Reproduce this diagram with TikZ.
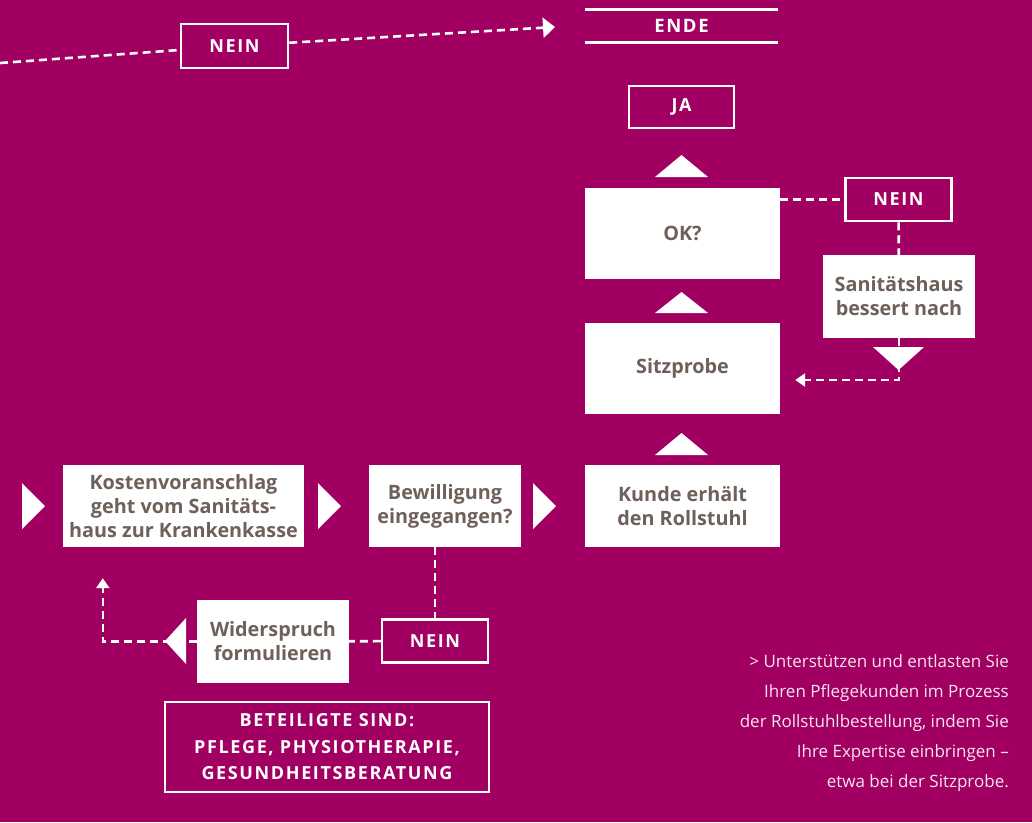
\documentclass[tikz,border=0pt]{standalone}
\usepackage{fontspec}
\setmainfont{Open Sans}
\newfontfamily\capsfont[LetterSpace=9]{Open Sans}
\usetikzlibrary{arrows.meta,positioning}

\definecolor{bgmag}{HTML}{A10062}
\definecolor{boxtext}{RGB}{110,96,90}
\definecolor{notetext}{HTML}{F6E4EE}

\tikzset{
  stepbox/.style={fill=white,text=boxtext,align=center,inner sep=0pt,
    font=\bfseries\fontsize{19.8}{24}\selectfont},
  answer/.style={draw=white,line width=2.5pt,fill=bgmag,text=white,inner sep=0pt,
    minimum width=106pt,minimum height=43pt,font=\capsfont\bfseries\fontsize{18}{20}\selectfont},
  dashline/.style={white,line width=2.6pt,dash pattern=on 8pt off 5pt},
  tip/.style={-{Triangle[width=13pt,length=10pt]}},
  marker/.style={fill=white}
}

\begin{document}
\begin{tikzpicture}[x=1pt,y=-1pt]
  \fill[bgmag] (0,0) rectangle (1032,822);
  \useasboundingbox (0,0) rectangle (1032,822);

  % right column
  \node[inner sep=0pt,minimum width=193pt,minimum height=32pt,text=white,
    font=\capsfont\bfseries\fontsize{18.5}{20}\selectfont] (ende) at (681.5,26) {ENDE};
  \draw[white,line width=2.8pt] (ende.north west) -- (ende.north east);
  \draw[white,line width=2.8pt] (ende.south west) -- (ende.south east);
  \node[answer,minimum width=105pt,minimum height=42pt] (ja) at (681.5,107) {JA};
  \node[stepbox,minimum width=195pt,minimum height=91pt] (ok) at (682.5,233.5) {OK?};
  \node[stepbox,minimum width=195pt,minimum height=91pt] (sitz) at (682.5,368.5) {Sitzprobe};
  \node[stepbox,minimum width=195pt,minimum height=82pt] (kunde) at (682.5,506) {Kunde erhält\\den Rollstuhl};

  % loop back over Sanitaetshaus
  \node[answer] (neinR) at (898.5,199.5) {NEIN};
  \node[stepbox,minimum width=152pt,minimum height=83pt] (sani) at (899,296.5) {Sanitätshaus\\bessert nach};
  \draw[dashline] (ok.east |- neinR) -- (neinR);
  \draw[dashline] (neinR) -- (sani);
  \draw[dashline,tip] (sani.south) |- ([xshift=15pt,yshift=-11.5pt]sitz.east);
  \fill[marker] (873,347) -- (924,347) -- (898.5,370) -- cycle;

  \fill[marker] (655,177) -- (708,177) -- (681.5,155) -- cycle;
  \fill[marker] (655,313) -- (708,313) -- (681.5,292) -- cycle;
  \fill[marker] (655,455) -- (708,455) -- (681.5,433) -- cycle;

  % lower row
  \node[stepbox,minimum width=241pt,minimum height=82pt] (kosten) at (183.5,506)
    {Kostenvoranschlag\\geht vom Sanitäts-\\haus zur Krankenkasse};
  \node[stepbox,minimum width=152pt,minimum height=82pt] (bew) at (445,506)
    {Bewilligung\\eingegangen?};
  \fill[marker] (22,483) -- (45,506) -- (22,529) -- cycle;
  \fill[marker] (318,483) -- (341,506) -- (318,529) -- cycle;
  \fill[marker] (533,483) -- (556,506) -- (533,529) -- cycle;

  \node[answer] (neinB) at (435,641) {NEIN};
  \node[stepbox,minimum width=152pt,minimum height=83pt] (wider) at (273,641.5)
    {Widerspruch\\formulieren};
  \draw[dashline] (bew.south -| neinB) -- (neinB);
  \draw[dashline] (neinB) -- (wider);
  \draw[dashline,tip] (wider.west) -| ([xshift=40pt,yshift=-31pt]kosten.south west);
  \fill[marker] (165,641) -- (186,618) -- (186,664) -- cycle;

  \node[draw=white,line width=2.5pt,text=white,align=center,inner sep=0pt,
    minimum width=324pt,minimum height=90pt,
    font=\capsfont\bfseries\fontsize{18}{26.5}\selectfont] (beteiligt) at (327,747)
    {BETEILIGTE SIND:\\PFLEGE, PHYSIOTHERAPIE,\\GESUNDHEITSBERATUNG};

  % top: back to start
  \coordinate (startT) at (0,63);
  \coordinate (endT) at (555,27);
  \node[answer,minimum width=107pt,minimum height=44pt] (neinT) at (234.5,46) {NEIN};
  \draw[dashline] (startT) -- (neinT);
  \draw[dashline,-{Triangle[width=20pt,length=12pt]}] (neinT) -- (endT);

  % note
  \node[anchor=north east,align=right,text=notetext,inner sep=0pt,
    font=\fontsize{17}{30.2}\selectfont] (note) at (1009,654)
    {> Unterstützen und entlasten Sie\\Ihren Pflegekunden im Prozess\\der Rollstuhlbestellung, indem Sie\\Ihre Expertise einbringen –\\etwa bei der Sitzprobe.};
\end{tikzpicture}
\end{document}
